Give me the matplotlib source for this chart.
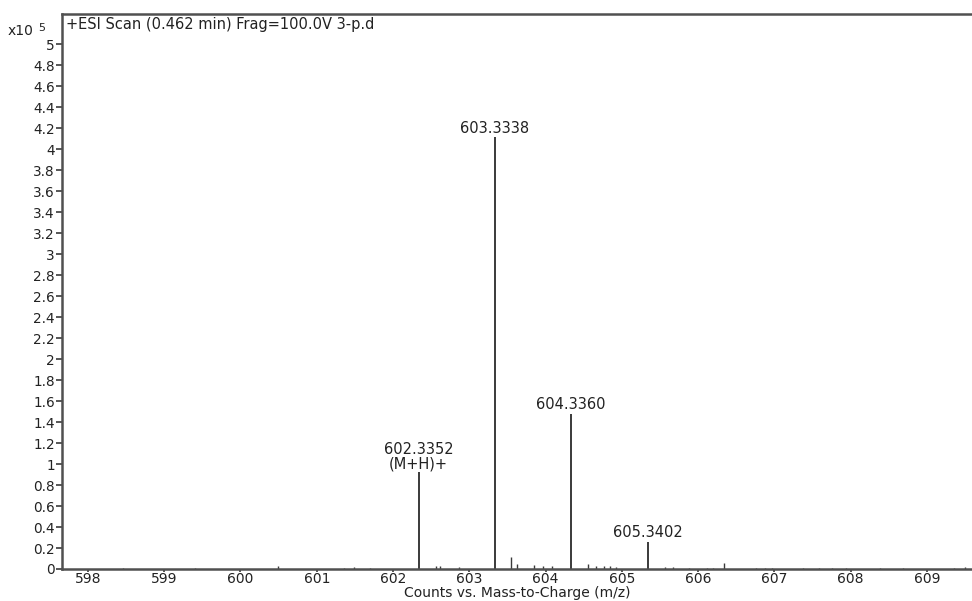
import matplotlib.pyplot as plt

plt.rcParams['font.family'] = ['DejaVu Sans']

# main peaks (intensity in x10^5 counts)
peak_mz = [602.3352, 603.3338, 604.3360, 605.3402]
peak_int = [0.92, 4.11, 1.48, 0.26]
peak_labels = ["602.3352\n(M+H)+", "603.3338", "604.3360", "605.3402"]

# small isotope / noise peaks
minor_mz = [598.46, 599.41, 600.49, 601.36, 601.49, 601.70,
            602.56, 602.62, 602.86, 603.55, 603.63, 603.85, 603.97, 604.09,
            604.55, 604.66, 604.76, 604.84, 604.92, 605.57, 605.67, 605.88,
            606.12, 606.20, 606.34, 606.76, 606.88, 606.97, 607.37, 607.59,
            607.76, 607.94, 608.38, 608.69, 609.35, 609.50]
minor_int = [0.012, 0.012, 0.03, 0.012, 0.02, 0.012,
             0.03, 0.025, 0.02, 0.11, 0.05, 0.04, 0.025, 0.025,
             0.045, 0.025, 0.025, 0.025, 0.02, 0.02, 0.015, 0.012,
             0.012, 0.012, 0.06, 0.012, 0.012, 0.012, 0.012, 0.012,
             0.012, 0.012, 0.012, 0.012, 0.012, 0.02]

xticks = [598, 599, 600, 601, 602, 603, 604, 605, 606, 607, 608, 609]
yticks = [i * 0.2 for i in range(26)]

line_col = "#3a3a3a"
text_col = "#222222"

fig = plt.figure(figsize=(9.72, 6.01), dpi=100)
ax = fig.add_axes([62 / 972, 32 / 601, 910 / 972, 555 / 601])

ax.vlines(minor_mz, 0, minor_int, color=line_col, linewidth=1.0)
ax.vlines(peak_mz, 0, peak_int, color=line_col, linewidth=1.4)

for mz, h, lab in zip(peak_mz, peak_int, peak_labels):
    ax.annotate(lab, (mz, h), xytext=(0, 1), textcoords="offset points",
                ha="center", va="bottom", fontsize=10.5, color=text_col,
                linespacing=0.9)

ax.set_xlim(597.66, 609.59)
ax.set_ylim(0, 5.286)

ax.set_xticks(xticks)
ax.set_xticklabels([str(t) for t in xticks], fontsize=10)
ax.set_yticks(yticks)
ylabs = []
for t in yticks:
    s = "%.1f" % t
    if s.endswith(".0"):
        s = s[:-2]
    ylabs.append(s)
ax.set_yticklabels(ylabs, fontsize=9.8)

ax.tick_params(axis="x", direction="out", length=2.5, width=1.2,
               color=line_col, labelcolor=text_col, pad=0)
ax.tick_params(axis="y", direction="out", length=4, width=1.2,
               color=line_col, labelcolor=text_col, pad=1)

for side in ["left", "top", "bottom"]:
    ax.spines[side].set_color("#505050")
    ax.spines[side].set_linewidth(1.8)
ax.spines["right"].set_visible(False)

ax.set_xlabel("Counts vs. Mass-to-Charge (m/z)", fontsize=10, color=text_col,
              va="bottom")
ax.xaxis.set_label_coords(0.5, -31.5 / 555)

ax.text(0.004, 0.995, "+ESI Scan (0.462 min) Frag=100.0V 3-p.d",
        transform=ax.transAxes, ha="left", va="top", fontsize=10.5,
        color=text_col)

fig.text(8 / 972, 1 - 31 / 601, "x10", ha="left", va="center",
         fontsize=10, color=text_col)
fig.text(38 / 972, 1 - 28 / 601, "5", ha="left", va="center",
         fontsize=8, color=text_col)

fig.savefig("out.png", dpi=100)
